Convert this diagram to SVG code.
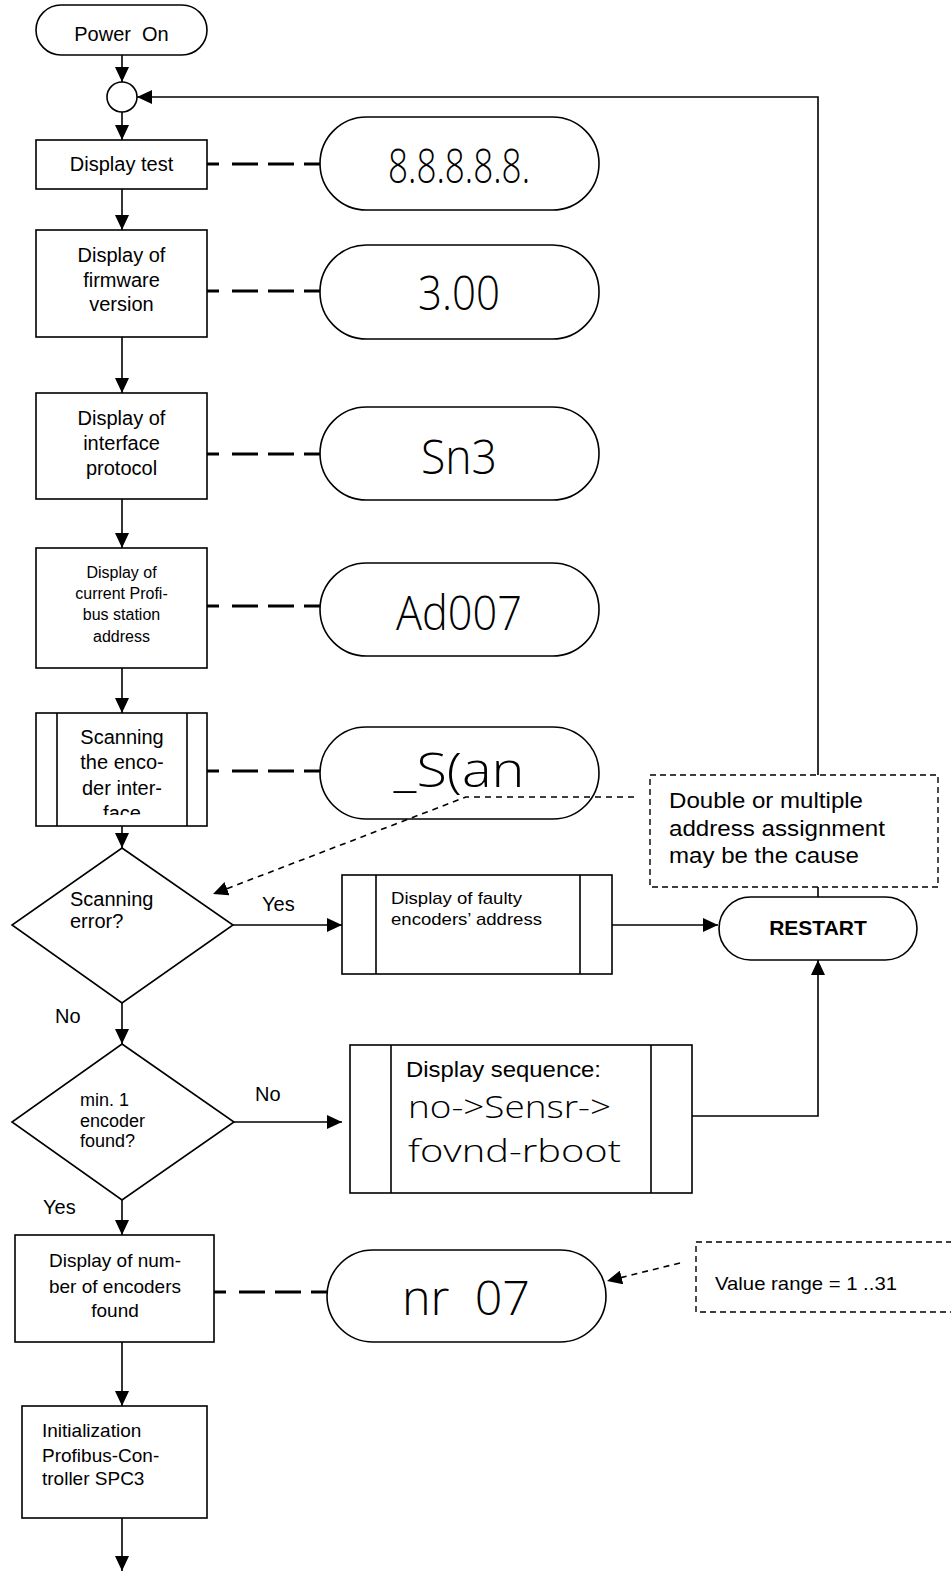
<svg xmlns="http://www.w3.org/2000/svg" width="951" height="1571" viewBox="0 0 951 1571">
<style>
.n{fill:#fff;stroke:#000;stroke-width:1.6}
.t{font-family:"Liberation Sans",Arial,sans-serif;font-size:20px;fill:#000}
.s{font-family:"Liberation Sans",Arial,sans-serif;font-size:16px;fill:#000}
.d{font-family:"Open Sans","DejaVu Sans",sans-serif;font-weight:300;font-size:47px;fill:#000}
.c{fill:none;stroke:#000;stroke-width:1.6}
.dl{fill:none;stroke:#000;stroke-width:3;stroke-dasharray:12 13 26 10 26 10 26 10}
.nt{fill:#fff;stroke:#000;stroke-width:1.4;stroke-dasharray:6 4}
.dn{fill:none;stroke:#000;stroke-width:1.6;stroke-dasharray:6 5}
</style>
<defs>
<marker id="a" markerUnits="userSpaceOnUse" markerWidth="15" markerHeight="14" refX="15" refY="7" orient="auto">
<path d="M0,0L15,7L0,14z" fill="#000"/>
</marker>
<clipPath id="cp5"><rect x="57" y="713" width="130" height="102"/></clipPath>
</defs>

<g id="power-on">
<rect class="n" x="36" y="5" width="171" height="50" rx="25"/>
<text class="t" x="121.5" y="41" text-anchor="middle" xml:space="preserve">Power  On</text>
</g>
<g id="junction"><circle class="n" cx="122" cy="97" r="15"/></g>

<g id="display-test">
<rect class="n" x="36" y="140" width="171" height="49"/>
<text class="t" x="121.5" y="171" text-anchor="middle">Display test</text>
</g>
<g id="pill-8888"><rect class="n" x="320" y="117" width="279" height="93" rx="46.5"/>
<text class="d" x="459" y="183" text-anchor="middle" textLength="142" lengthAdjust="spacingAndGlyphs">8.8.8.8.8.</text></g>

<g id="firmware">
<rect class="n" x="36" y="230" width="171" height="107"/>
<text class="t" text-anchor="middle"><tspan x="121.5" y="262">Display of</tspan><tspan x="121.5" y="287">firmware</tspan><tspan x="121.5" y="311">version</tspan></text>
</g>
<g id="pill-300"><rect class="n" x="320" y="245" width="279" height="94" rx="46.5"/>
<text class="d" x="459" y="310" text-anchor="middle" textLength="82" lengthAdjust="spacingAndGlyphs">3.00</text></g>

<g id="protocol">
<rect class="n" x="36" y="393" width="171" height="106"/>
<text class="t" text-anchor="middle"><tspan x="121.5" y="425">Display of</tspan><tspan x="121.5" y="450">interface</tspan><tspan x="121.5" y="475">protocol</tspan></text>
</g>
<g id="pill-sn3"><rect class="n" x="320" y="407" width="279" height="93" rx="46.5"/>
<text class="d" x="459" y="474" text-anchor="middle" textLength="76" lengthAdjust="spacingAndGlyphs">Sn3</text></g>

<g id="station">
<rect class="n" x="36" y="548" width="171" height="120"/>
<text class="s" text-anchor="middle"><tspan x="121.5" y="578">Display of</tspan><tspan x="121.5" y="599">current Profi-</tspan><tspan x="121.5" y="620">bus station</tspan><tspan x="121.5" y="642">address</tspan></text>
</g>
<g id="pill-ad007"><rect class="n" x="320" y="563" width="279" height="93" rx="46.5"/>
<text class="d" x="459" y="630" text-anchor="middle" textLength="126" lengthAdjust="spacingAndGlyphs">Ad007</text></g>

<g id="scanning">
<rect class="n" x="36" y="713" width="171" height="113"/>
<line class="c" x1="57" y1="713" x2="57" y2="826"/>
<line class="c" x1="187" y1="713" x2="187" y2="826"/>
<text class="t" text-anchor="middle" clip-path="url(#cp5)"><tspan x="122" y="744">Scanning</tspan><tspan x="122" y="769">the enco-</tspan><tspan x="122" y="795">der inter-</tspan><tspan x="122" y="820">face</tspan></text>
</g>
<g id="pill-scan"><rect class="n" x="320" y="727" width="279" height="92" rx="46"/>
<text class="d" x="459" y="787" text-anchor="middle" textLength="131" lengthAdjust="spacingAndGlyphs">_S(an</text></g>

<g id="scan-error">
<polygon class="n" points="122,848 233,925 122,1003 12,925"/>
<text class="t"><tspan x="70" y="906">Scanning</tspan><tspan x="70" y="928">error?</tspan></text>
<text class="t" x="262" y="911">Yes</text>
<text class="t" x="55" y="1023">No</text>
</g>

<g id="faulty">
<rect class="n" x="342" y="875" width="270" height="99"/>
<line class="c" x1="376" y1="875" x2="376" y2="974"/>
<line class="c" x1="580" y1="875" x2="580" y2="974"/>
<text class="t" style="font-size:17px"><tspan x="391" y="904" textLength="131" lengthAdjust="spacingAndGlyphs">Display of faulty</tspan><tspan x="391" y="925" textLength="151" lengthAdjust="spacingAndGlyphs">encoders’ address</tspan></text>
</g>

<g id="restart">
<rect class="n" x="719" y="897" width="198" height="63" rx="31.5"/>
<text class="t" x="818" y="935" text-anchor="middle" style="font-weight:bold;font-size:21px">RESTART</text>
</g>

<g id="min-encoder">
<polygon class="n" points="122,1044 234,1122 122,1200 12,1122"/>
<text class="t" style="font-size:18px"><tspan x="80" y="1106">min. 1</tspan><tspan x="80" y="1127">encoder</tspan><tspan x="80" y="1147">found?</tspan></text>
<text class="t" x="255" y="1101">No</text>
<text class="t" x="43" y="1214">Yes</text>
</g>

<g id="sequence">
<rect class="n" x="350" y="1045" width="342" height="148"/>
<line class="c" x1="391" y1="1045" x2="391" y2="1193"/>
<line class="c" x1="651" y1="1045" x2="651" y2="1193"/>
<text class="t" x="406" y="1077" textLength="195" lengthAdjust="spacingAndGlyphs" style="font-size:22px">Display sequence:</text>
<text class="d" style="font-size:32px" x="408" y="1118" textLength="203" lengthAdjust="spacingAndGlyphs">no-&gt;Sensr-&gt;</text>
<text class="d" style="font-size:32px" x="408" y="1162" textLength="213" lengthAdjust="spacingAndGlyphs">fovnd-rboot</text>
</g>

<g id="num-encoders">
<rect class="n" x="15" y="1235" width="199" height="107"/>
<text class="t" style="font-size:19px" text-anchor="middle"><tspan x="115" y="1267">Display of num-</tspan><tspan x="115" y="1293">ber of encoders</tspan><tspan x="115" y="1317">found</tspan></text>
</g>
<g id="pill-nr07"><rect class="n" x="327" y="1250" width="279" height="92" rx="46"/>
<text class="d" x="402" y="1315" textLength="128" lengthAdjust="spacingAndGlyphs" xml:space="preserve">nr  07</text></g>

<g id="init">
<rect class="n" x="22" y="1406" width="185" height="112"/>
<text class="t" style="font-size:19px"><tspan x="42" y="1437">Initialization</tspan><tspan x="42" y="1462">Profibus-Con-</tspan><tspan x="42" y="1485">troller SPC3</tspan></text>
</g>

<g id="connectors">
<line class="c" x1="122" y1="55" x2="122" y2="82" marker-end="url(#a)"/>
<line class="c" x1="122" y1="112" x2="122" y2="140" marker-end="url(#a)"/>
<line class="c" x1="122" y1="189" x2="122" y2="230" marker-end="url(#a)"/>
<line class="c" x1="122" y1="337" x2="122" y2="393" marker-end="url(#a)"/>
<line class="c" x1="122" y1="499" x2="122" y2="548" marker-end="url(#a)"/>
<line class="c" x1="122" y1="668" x2="122" y2="713" marker-end="url(#a)"/>
<line class="c" x1="122" y1="826" x2="122" y2="848" marker-end="url(#a)"/>
<line class="c" x1="122" y1="1003" x2="122" y2="1044" marker-end="url(#a)"/>
<line class="c" x1="122" y1="1200" x2="122" y2="1235" marker-end="url(#a)"/>
<line class="c" x1="122" y1="1342" x2="122" y2="1406" marker-end="url(#a)"/>
<line class="c" x1="122" y1="1518" x2="122" y2="1571" marker-end="url(#a)"/>
<line class="c" x1="233" y1="925" x2="342" y2="925" marker-end="url(#a)"/>
<line class="c" x1="612" y1="925" x2="718" y2="925" marker-end="url(#a)"/>
<line class="c" x1="234" y1="1122" x2="342" y2="1122" marker-end="url(#a)"/>
<polyline class="c" points="692,1116 818,1116 818,960" marker-end="url(#a)"/>
<polyline class="c" points="818,897 818,97 137,97" marker-end="url(#a)"/>
<line class="dl" x1="207" y1="164" x2="320" y2="164"/>
<line class="dl" x1="207" y1="291" x2="320" y2="291"/>
<line class="dl" x1="207" y1="454" x2="320" y2="454"/>
<line class="dl" x1="207" y1="606" x2="320" y2="606"/>
<line class="dl" x1="207" y1="771" x2="320" y2="771"/>
<line class="dl" x1="214" y1="1292" x2="327" y2="1292"/>
<polyline class="dn" points="634,797 466,797 213,894" marker-end="url(#a)"/>
<line class="dn" x1="680" y1="1263" x2="607" y2="1281" marker-end="url(#a)"/>
</g>

<g id="note-address">
<rect class="nt" x="650" y="775" width="288" height="112"/>
<text class="t" style="font-size:22px"><tspan x="669" y="808" textLength="194" lengthAdjust="spacingAndGlyphs">Double or multiple</tspan><tspan x="669" y="836" textLength="216" lengthAdjust="spacingAndGlyphs">address assignment</tspan><tspan x="669" y="863" textLength="190" lengthAdjust="spacingAndGlyphs">may be the cause</tspan></text>
</g>

<g id="note-range">
<rect class="nt" x="696" y="1242" width="270" height="70"/>
<text class="t" x="715" y="1290" textLength="182" lengthAdjust="spacingAndGlyphs" style="font-size:19px">Value range = 1 ..31</text>
</g>
</svg>
